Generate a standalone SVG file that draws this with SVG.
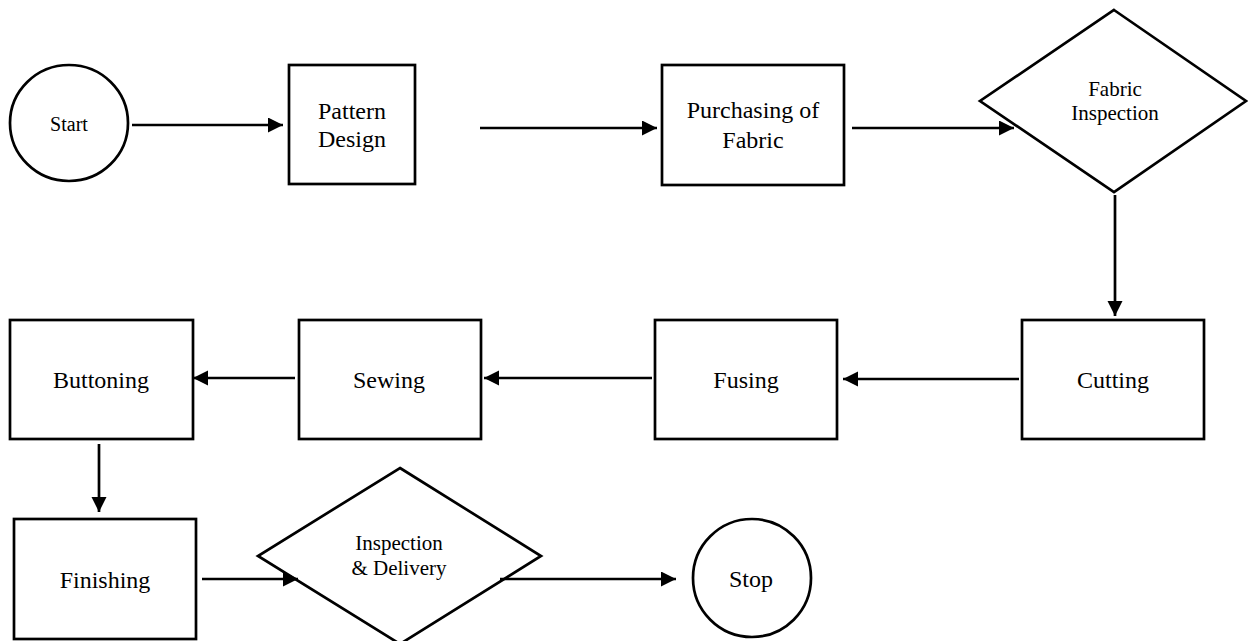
<svg xmlns="http://www.w3.org/2000/svg" width="1248" height="641" viewBox="0 0 1248 641">
<style>
.s{fill:#fff;stroke:#000;stroke-width:2.7}
.t{fill:#000;text-anchor:middle}
.c{fill:none;stroke:#000;stroke-width:2.7}
</style>
<defs>
<marker id="ah" markerUnits="userSpaceOnUse" markerWidth="16" markerHeight="16" refX="15" refY="7.5" orient="auto">
<path d="M0,0 L15,7.5 L0,15 z" fill="#000"/>
</marker>
</defs>
<rect width="1248" height="641" fill="#fff"/>
<g font-family="'Liberation Serif', 'DejaVu Serif', serif">
<g id="start"><ellipse class="s" cx="69" cy="123" rx="59" ry="58"/><text class="t" x="69" y="131" font-size="20">Start</text></g>
<g id="pattern"><rect class="s" x="289" y="65" width="126" height="119"/><text class="t" x="352" y="119" font-size="24">Pattern</text><text class="t" x="352" y="147" font-size="24">Design</text></g>
<g id="purchasing"><rect class="s" x="662" y="65" width="182" height="120"/><text class="t" x="753" y="118" font-size="24">Purchasing of</text><text class="t" x="753" y="148" font-size="24">Fabric</text></g>
<g id="fabric-inspection"><polygon class="s" points="1114,10 1246,101 1114,192 980,101"/><text class="t" x="1115" y="96" font-size="21">Fabric</text><text class="t" x="1115" y="120" font-size="21">Inspection</text></g>
<g id="cutting"><rect class="s" x="1022" y="320" width="182" height="119"/><text class="t" x="1113" y="388" font-size="24">Cutting</text></g>
<g id="fusing"><rect class="s" x="655" y="320" width="182" height="119"/><text class="t" x="746" y="388" font-size="24">Fusing</text></g>
<g id="sewing"><rect class="s" x="299" y="320" width="182" height="119"/><text class="t" x="389" y="388" font-size="24">Sewing</text></g>
<g id="buttoning"><rect class="s" x="10" y="320" width="183" height="119"/><text class="t" x="101" y="388" font-size="24">Buttoning</text></g>
<g id="finishing"><rect class="s" x="14" y="519" width="182" height="120"/><text class="t" x="105" y="588" font-size="24">Finishing</text></g>
<g id="inspection-delivery"><polygon class="s" points="400,468 541,556 400,644 258,556"/><text class="t" x="399" y="550" font-size="21">Inspection</text><text class="t" x="399" y="575" font-size="21">&amp; Delivery</text></g>
<g id="stop"><circle class="s" cx="752" cy="578" r="59"/><text class="t" x="751" y="587" font-size="24">Stop</text></g>
</g>
<g id="connectors">
<line class="c" x1="132" y1="125" x2="283" y2="125" marker-end="url(#ah)"/>
<line class="c" x1="480" y1="128" x2="657" y2="128" marker-end="url(#ah)"/>
<line class="c" x1="852" y1="128" x2="1014" y2="128" marker-end="url(#ah)"/>
<line class="c" x1="1115" y1="195" x2="1115" y2="316" marker-end="url(#ah)"/>
<line class="c" x1="1019" y1="379" x2="843" y2="379" marker-end="url(#ah)"/>
<line class="c" x1="652" y1="378" x2="484" y2="378" marker-end="url(#ah)"/>
<line class="c" x1="295" y1="378" x2="193" y2="378" marker-end="url(#ah)"/>
<line class="c" x1="99" y1="444" x2="99" y2="512" marker-end="url(#ah)"/>
<line class="c" x1="202" y1="579" x2="298" y2="579" marker-end="url(#ah)"/>
<line class="c" x1="500" y1="579" x2="676" y2="579" marker-end="url(#ah)"/>
</g>
</svg>
